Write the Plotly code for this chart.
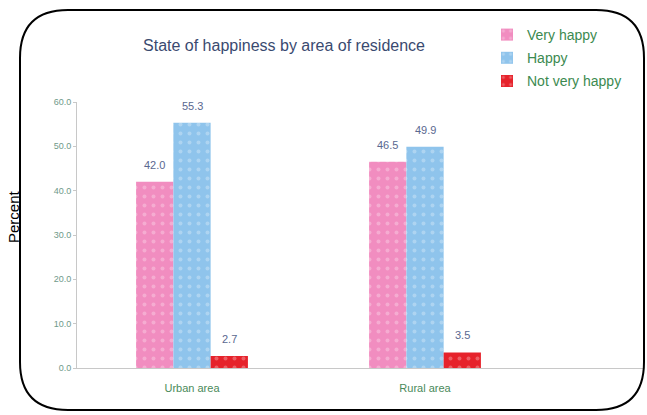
import plotly.graph_objects as go

categories = ["Urban area", "Rural area"]
very_happy = [42.0, 46.5]
happy = [55.3, 49.9]
not_very_happy = [2.7, 3.5]
series_names = ["Very happy", "Happy", "Not very happy"]
y_ticks = [0, 10, 20, 30, 40, 50, 60]

W, H = 647, 415
L, R, T, B = 77, 4, 102, 47
pw, ph = W - L - R, H - T - B
BARGAP = 0.52

def px_x(p):
    return (p - L) / pw

def px_y(p):
    return (H - B - p) / ph

colors = ["#F18DC0", "#8FC4EC", "#E6222B"]
label_color = "#5A6890"
x_range = [-115 / 233, 1 + 218 / 233]
cat_px = pw / (x_range[1] - x_range[0])
bar_px = cat_px * (1 - BARGAP) / 3

fig = go.Figure()
for i, (name, vals, col) in enumerate(zip(series_names, [very_happy, happy, not_very_happy], colors)):
    fig.add_trace(go.Bar(
        name=name, x=categories, y=vals, legendgroup=name,
        marker=dict(color=col, line=dict(width=0),
                    pattern=dict(shape=".", fgcolor="rgba(255,255,255,0.55)", size=9, solidity=0.15)),
    ))
    for c, v in zip(categories, vals):
        fig.add_annotation(x=c, y=v, text=f"{v:.1f}", showarrow=False, xref="x", yref="y",
                           xshift=(i - 1) * bar_px, yshift=17, yanchor="middle",
                           font=dict(size=11, color=label_color, family="Liberation Sans, Arial"))

# rounded border
x0, x1 = px_x(20), px_x(644)
y0, y1 = px_y(410), px_y(10)
rx, ry = 48 / pw, 48 / ph
path = (f"M {x0+rx},{y1} L {x1-rx},{y1} Q {x1},{y1} {x1},{y1-ry} "
        f"L {x1},{y0+ry} Q {x1},{y0} {x1-rx},{y0} "
        f"L {x0+rx},{y0} Q {x0},{y0} {x0},{y0+ry} "
        f"L {x0},{y1-ry} Q {x0},{y1} {x0+rx},{y1} Z")
fig.add_shape(type="path", path=path, xref="paper", yref="paper",
              line=dict(color="black", width=2), layer="above")

fig.add_annotation(text="Percent", x=px_x(13), y=px_y(217), xref="paper", yref="paper",
                   textangle=-90, showarrow=False, xanchor="center", yanchor="middle",
                   font=dict(size=15, color="black", family="Liberation Sans, Arial"))

fig.update_layout(
    width=W, height=H,
    margin=dict(l=L, r=R, t=T, b=B),
    paper_bgcolor="white", plot_bgcolor="white",
    barmode="group", bargap=BARGAP, bargroupgap=0,
    title=dict(text="State of happiness by area of residence", x=284 / W, xref="container",
               y=1 - 45 / H, yref="container", xanchor="center", yanchor="middle",
               font=dict(size=16, color="#3A4A70", family="Liberation Sans, Arial")),
    legend=dict(x=px_x(487), y=px_y(19), xref="paper", yref="paper", xanchor="left", yanchor="top",
                font=dict(size=14, color="#3C8A50", family="Liberation Sans, Arial"),
                bgcolor="rgba(0,0,0,0)", itemwidth=30, tracegroupgap=2, traceorder="grouped"),
    font=dict(family="Liberation Sans, Arial"),
    xaxis=dict(range=x_range, showline=True, linecolor="#C8C8C8", linewidth=1,
               ticks="", ticklabelstandoff=10, tickfont=dict(size=11, color="#4A8A5A"),
               showgrid=False, zeroline=False),
    yaxis=dict(range=[0, 60], tickvals=y_ticks, ticktext=[f"{v:.1f}" for v in y_ticks],
               showline=True, linecolor="#C8C8C8", linewidth=1, ticks="outside", ticklen=3,
               tickcolor="#C8C8C8", tickfont=dict(size=9, color="#6F9A8A"), showgrid=False,
               zeroline=False),
)

fig.write_html("out.html", config={"displayModeBar": False},
               post_script="document.body.style.margin='0';document.body.style.overflow='hidden';")
